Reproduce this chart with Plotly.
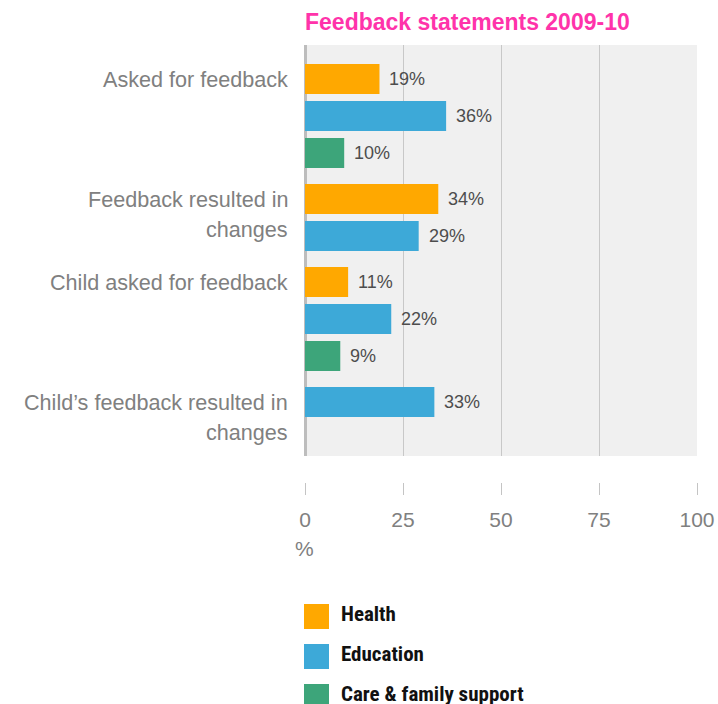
import plotly.graph_objects as go

# ---- data -------------------------------------------------------------
categories = [
    "Asked for feedback",
    "Feedback resulted in changes",
    "Child asked for feedback",
    "Child’s feedback resulted in changes",
]
category_lines = [
    ["Asked for feedback"],
    ["Feedback resulted in", "changes"],
    ["Child asked for feedback"],
    ["Child’s feedback resulted in", "changes"],
]
series_names = ["Health", "Education", "Care & family support"]
series_colors = ["#FFA800", "#3DA9D8", "#3DA57A"]
health = [19, 34, 11, None]
education = [36, 29, 22, 33]
care = [10, None, 9, None]
series_values = [health, education, care]
x_ticks = [0, 25, 50, 75, 100]
title_text = "Feedback statements 2009-10"
unit_label = "%"

# ---- layout constants (pixels) ----------------------------------------
W, H = 718, 704
L, R, T, B = 305, 21, 45, 0
PLOT_BOTTOM = 456
TICK_AXIS_Y = 482
SLOT = 37.0                 # vertical pitch of one bar, px
BAR_W = 30 / SLOT
GROUP_GAP = 9 / SLOT
LINE_STEP = 30 / SLOT
PAD_TOP = 34 / SLOT
PAD_BOTTOM = 54 / SLOT

FONT = "Liberation Sans, Arial, Helvetica, sans-serif"
FONT_NARROW = ("Roboto Condensed, Open Sans Condensed, Liberation Sans Narrow, "
               "Arial Narrow, DejaVu Sans Condensed, sans-serif")
GREY_TEXT = "#808080"


def px_x(px):
    return (px - L) / (W - L - R)


def px_y(py):
    return (H - B - py) / (H - T - B)


# ---- bar positions: present bars stack within a group, groups separated
positions = [[None] * len(categories) for _ in series_values]
group_start = []
pos = 0.0
for i in range(len(categories)):
    group_start.append(pos)
    for s, vals in enumerate(series_values):
        if vals[i] is not None:
            positions[s][i] = pos
            pos += 1
    pos += GROUP_GAP
last_pos = pos - GROUP_GAP - 1

fig = go.Figure()
annotations = []

for s, (name, color, vals) in enumerate(zip(series_names, series_colors, series_values)):
    xs = [v for v in vals if v is not None]
    ys = [p for v, p in zip(vals, positions[s]) if v is not None]
    fig.add_trace(go.Bar(
        x=xs, y=ys, orientation="h", width=BAR_W, name=name,
        marker=dict(color=color, line=dict(width=0)),
        showlegend=False, hoverinfo="x+name",
    ))
    for v, p in zip(xs, ys):
        annotations.append(dict(
            x=v, y=p, xref="x", yref="y", text=f"{v}%", showarrow=False,
            xanchor="left", yanchor="middle", xshift=8,
            font=dict(family=FONT, size=18, color="#4d4d4d"),
        ))

# category labels, one annotation per text line
for start, lines in zip(group_start, category_lines):
    for j, line in enumerate(lines):
        annotations.append(dict(
            x=0, xref="paper", y=start + j * LINE_STEP, yref="y",
            text=line, showarrow=False, xanchor="right", yanchor="middle",
            xshift=-15, font=dict(family=FONT, size=21.6, color=GREY_TEXT),
        ))

# unit label under the axis
annotations.append(dict(
    x=px_x(304.5), xref="paper", y=px_y(548), yref="paper", text=unit_label,
    showarrow=False, xanchor="center", yanchor="middle",
    font=dict(family=FONT, size=21, color=GREY_TEXT),
))

# legend built from squares and labels
shapes = []
for k, (name, color) in enumerate(zip(series_names, series_colors)):
    top = 604 + k * 40
    shapes.append(dict(
        type="rect", xref="paper", yref="paper",
        x0=px_x(304), x1=px_x(329), y0=px_y(top + 25), y1=px_y(top),
        fillcolor=color, line=dict(width=0),
    ))
    annotations.append(dict(
        x=px_x(339), xref="paper", y=px_y(top + 10), yref="paper",
        text=f"<b>{name}</b>", showarrow=False, xanchor="left", yanchor="middle",
        font=dict(family=FONT_NARROW, size=21, color="#111111"),
    ))

fig.update_layout(
    width=W, height=H,
    margin=dict(l=L, r=R, t=T, b=B, pad=0),
    paper_bgcolor="white",
    plot_bgcolor="#F0F0F0",
    barmode="overlay",
    title=dict(
        text=f"<b>{title_text}</b>", xref="paper", x=0, xanchor="left",
        yref="container", y=1 - 22 / H, yanchor="middle",
        font=dict(family=FONT, size=23, color="#FF33AA"),
    ),
    xaxis=dict(
        range=[0, 100], domain=[0, 1], anchor="free", position=px_y(TICK_AXIS_Y),
        tickvals=x_ticks, ticktext=[str(t) for t in x_ticks],
        ticks="outside", ticklen=12, tickwidth=1, tickcolor="#c4c4c4",
        showline=False, showgrid=True, gridcolor="#c8c8c8", gridwidth=1,
        zeroline=True, zerolinecolor="#bdbdbd", zerolinewidth=3,
        tickfont=dict(family=FONT, size=21, color=GREY_TEXT),
        ticklabelstandoff=7, fixedrange=True,
    ),
    yaxis=dict(
        domain=[px_y(PLOT_BOTTOM), 1],
        range=[last_pos + PAD_BOTTOM, -PAD_TOP],
        showgrid=False, zeroline=False, showticklabels=False, ticks="",
        showline=False, fixedrange=True,
    ),
    annotations=annotations,
    shapes=shapes,
)

fig.write_html("out.html")
